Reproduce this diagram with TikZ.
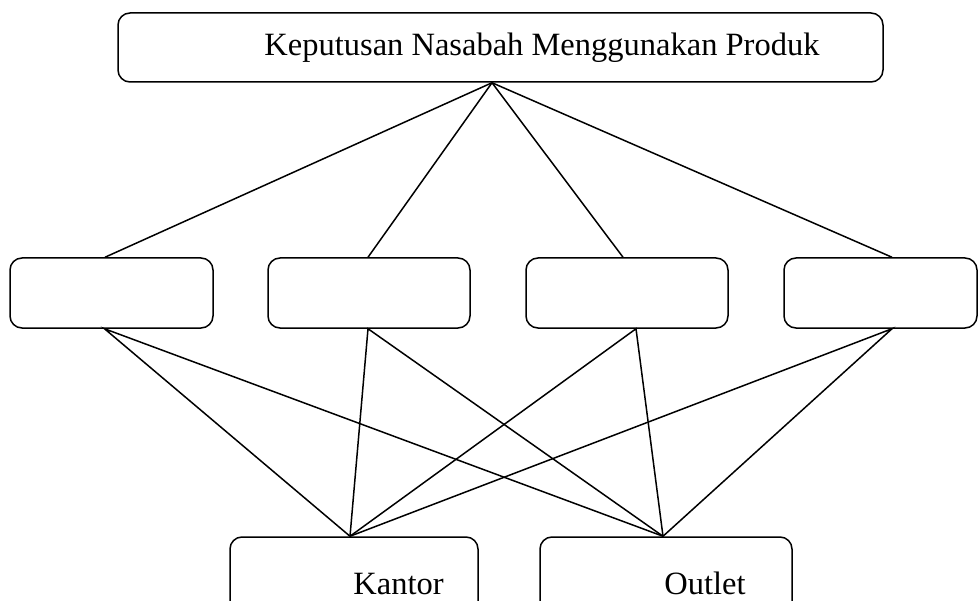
\documentclass[tikz,border=0pt]{standalone}
\usepackage{fontspec}
\setmainfont{Liberation Serif}
\usepackage{tikz}
\usetikzlibrary{calc,positioning}

\tikzset{
  box/.style={draw,line width=1.5pt,rounded corners=12pt,inner sep=0pt,minimum height=70pt},
  lbl/.style={inner sep=0pt,anchor=base west,font=\fontsize{32.5}{38}\selectfont},
  link/.style={line width=1.5pt}
}

\begin{document}
\begin{tikzpicture}[x=1pt,y=-1pt]
   \clip (0,0) rectangle (979,601);
   \node[box,minimum width=765pt,minimum height=69pt] (top) at (500.5,47.5) {};
   \node[lbl] (toptxt) at ($(top.north west)+(147,43)$) {Keputusan Nasabah Menggunakan Produk};
   \node[box,minimum width=203pt] (b1) at (111.5,293) {};
   \node[box,minimum width=202pt] (b2) at (369,293) {};
   \node[box,minimum width=202pt] (b3) at (627,293) {};
   \node[box,minimum width=193pt] (b4) at (880.5,293) {};
   \node[box,minimum width=248pt,minimum height=103pt] (kantor) at (354,588.5) {};
   \node[box,minimum width=252pt,minimum height=103pt] (outlet) at (666,588.5) {};
   \node[lbl] (ktxt) at ($(kantor.north west)+(124,58)$) {Kantor};
   \node[lbl] (otxt) at ($(outlet.north west)+(125,58)$) {Outlet};
   \coordinate (apex) at ([xshift=-8.5pt]top.south);
   \coordinate (kin) at ([xshift=-4pt]kantor.north);
   \coordinate (oin) at ([xshift=-3pt]outlet.north);
   \draw[link] (apex) -- ([xshift=-6.5pt]b1.north);
   \draw[link] (apex) -- ([xshift=-1pt]b2.north);
   \draw[link] (apex) -- ([xshift=-4pt]b3.north);
   \draw[link] (apex) -- ([xshift=11.5pt]b4.north);
   \draw[link] (kin) -- ([xshift=-7pt]b1.south) -- (oin);
   \draw[link] (kin) -- ([xshift=-1pt]b2.south) -- (oin);
   \draw[link] (kin) -- ([xshift=9pt]b3.south) -- (oin);
   \draw[link] (kin) -- ([xshift=11.5pt]b4.south) -- (oin);
\end{tikzpicture}
\end{document}
